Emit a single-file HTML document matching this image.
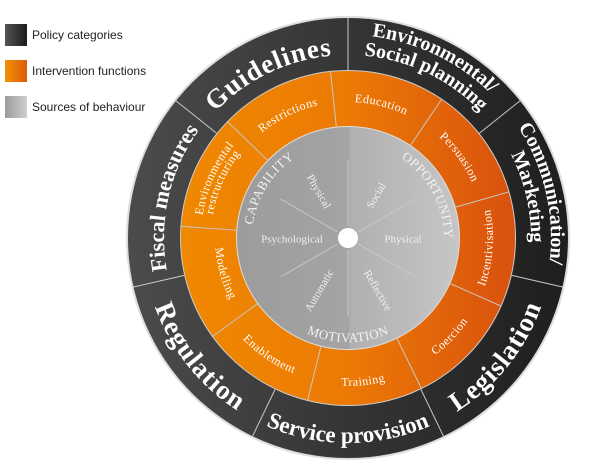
<!DOCTYPE html>
<html><head><meta charset="utf-8"><style>
html,body{margin:0;padding:0;background:#fff;width:600px;height:475px;overflow:hidden}
svg{display:block}
</style></head><body>
<svg id="s" width="600" height="475" xmlns="http://www.w3.org/2000/svg">
<defs>
<linearGradient id="gd" x1="0" x2="1" y1="0" y2="0"><stop offset="0" stop-color="#4c4b4c"/><stop offset="0.5" stop-color="#353535"/><stop offset="1" stop-color="#1e1e1e"/></linearGradient>
<linearGradient id="go" x1="0" x2="1" y1="0" y2="0"><stop offset="0" stop-color="#f08800"/><stop offset="0.5" stop-color="#ec7a05"/><stop offset="1" stop-color="#d9510e"/></linearGradient>
<linearGradient id="gg" x1="0" x2="1" y1="0" y2="0"><stop offset="0" stop-color="#9c9c9c"/><stop offset="0.5" stop-color="#a4a4a4"/><stop offset="0.51" stop-color="#b0b0b0"/><stop offset="1" stop-color="#c6c6c6"/></linearGradient>
<linearGradient id="l1" x1="0" x2="1"><stop offset="0" stop-color="#555"/><stop offset="1" stop-color="#1c1c1c"/></linearGradient>
<linearGradient id="l2" x1="0" x2="1"><stop offset="0" stop-color="#f39000"/><stop offset="1" stop-color="#dc5a0c"/></linearGradient>
<linearGradient id="l3" x1="0" x2="1"><stop offset="0" stop-color="#9a9a9a"/><stop offset="1" stop-color="#d0d0d0"/></linearGradient>
</defs>
<rect x="5" y="24" width="22" height="22" fill="url(#l1)"/>
<rect x="5" y="60" width="22" height="22" fill="url(#l2)"/>
<rect x="5" y="96" width="22" height="22" fill="url(#l3)"/>
<g font-family="Liberation Sans, sans-serif" font-size="12" fill="#222">
<text x="32" y="39">Policy categories</text>
<text x="32" y="75">Intervention functions</text>
<text x="32" y="111">Sources of behaviour</text>
</g>
<circle cx="348" cy="238" r="222" fill="#ddd"/>
<circle cx="348" cy="238" r="220" fill="url(#gd)"/>
<circle cx="348" cy="238" r="168" fill="#ccc"/>
<circle cx="348" cy="238" r="167" fill="url(#go)"/>
<circle cx="348" cy="238" r="112" fill="#ddd"/>
<circle cx="348" cy="238" r="111" fill="url(#gg)"/>
<g id="lines" stroke="#c8c8c8" stroke-width="1"></g>
<g id="txt" font-family="Liberation Serif, serif" fill="#fff"></g>
<circle cx="348" cy="238" r="10" fill="#fff"/>
</svg>
<script>
var cx=348,cy=238,NS="http://www.w3.org/2000/svg";
function P(r,a){a=a*Math.PI/180;return [cx+r*Math.cos(a),cy+r*Math.sin(a)];}
var L=document.getElementById("lines"),T=document.getElementById("txt"),defs=document.querySelector("defs"),n=0;
function line(a,r1,r2){var p=P(r1,a),q=P(r2,a);var e=document.createElementNS(NS,"line");e.setAttribute("x1",p[0]);e.setAttribute("y1",p[1]);e.setAttribute("x2",q[0]);e.setAttribute("y2",q[1]);L.appendChild(e);}
for(var k=0;k<7;k++)line(-90+k*360/7,168,220);
for(k=0;k<9;k++)line(-96+k*40,112,168);
[-90,-30,30,90,150,210].forEach(function(a){line(a,12,78);});
function arc(str,r,mid,cw,size,weight,ls,fill){
 var span=170,a1,a2,p,q,d;
 if(cw){a1=mid-span/2;a2=mid+span/2;}else{a1=mid+span/2;a2=mid-span/2;}
 p=P(r,a1);q=P(r,a2);
 d="M"+p[0]+","+p[1]+" A"+r+","+r+" 0 0 "+(cw?1:0)+" "+q[0]+","+q[1];
 var id="p"+(n++);var pa=document.createElementNS(NS,"path");pa.setAttribute("id",id);pa.setAttribute("d",d);defs.appendChild(pa);
 var t=document.createElementNS(NS,"text");t.setAttribute("font-size",size);if(weight)t.setAttribute("font-weight",weight);if(ls)t.setAttribute("letter-spacing",ls);if(fill)t.setAttribute("fill",fill);
 var tp=document.createElementNS(NS,"textPath");tp.setAttribute("href","#"+id);tp.setAttribute("startOffset","50%");tp.setAttribute("text-anchor","middle");tp.textContent=str;t.appendChild(tp);T.appendChild(t);
}
arc("Guidelines",183,244.3,1,27,"bold",1);
arc("Environmental/",203,-64.3,1,20,"bold");
arc("Social planning",183,-64.3,1,20,"bold");
arc("Communication/",203,-12.9,1,20,"bold");
arc("Marketing",183,-12.9,1,20,"bold");
arc("Legislation",205,38.6,0,27,"bold",1);
arc("Service provision",205,90,0,23,"bold");
arc("Regulation",205,141.4,0,27,"bold",1);
arc("Fiscal measures",184,192.9,1,22,"bold");
arc("Education",136,-76,1,12,null,0.5);
arc("Persuasion",136,-36,1,12,null,0.5);
arc("Incentivisation",145,4,0,12,null,0.5);
arc("Coercion",146,44,0,12,null,0.5);
arc("Training",148,84,0,12,null,0.5);
arc("Enablement",146,124,0,12,null,0.5);
arc("Modelling",133,164,0,12,null,0.5);
arc("Environmental",147,204,1,12,null,0.5);
arc("restructuring",137,204,1,12,null,0.5);
arc("Restrictions",136,244,1,12,null,0.5);
arc("CAPABILITY",96,-148,1,13,null,0.5,"#f4f4f4");
arc("OPPORTUNITY",96,-28,1,13,null,0.5,"#f4f4f4");
arc("MOTIVATION",104,90,0,13,null,0.5,"#f4f4f4");
function rt(str,x,y,rot){var t=document.createElementNS(NS,"text");t.setAttribute("x",x);t.setAttribute("y",y);t.setAttribute("font-size",11);t.setAttribute("fill","#f0f0f0");t.setAttribute("text-anchor","middle");t.setAttribute("dominant-baseline","middle");t.setAttribute("transform","rotate("+rot+" "+x+" "+y+")");t.textContent=str;T.appendChild(t);}
rt("Physical",318,192,60);
rt("Social",377,196,-60);
rt("Psychological",292,240,0);
rt("Physical",403,240,0);
rt("Automatic",320,291,-60);
rt("Reflective",377,291,60);
</script>
</body></html>
